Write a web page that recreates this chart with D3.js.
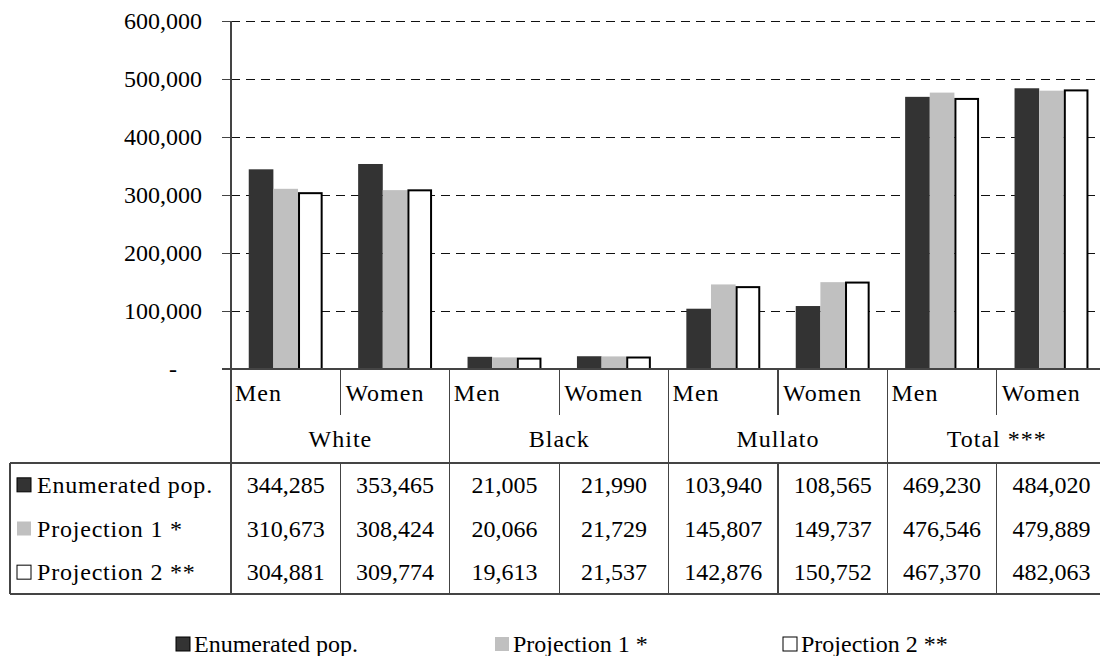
<!DOCTYPE html>
<html>
<head>
<meta charset="utf-8">
<script src="https://cdn.jsdelivr.net/npm/d3@7/dist/d3.min.js"></script>
<style>
  html, body { margin: 0; padding: 0; background: #fff; }
  svg { display: block; }
  svg text { font-family: "Liberation Serif", "Times New Roman", serif !important; fill: #000; }
</style>
</head>
<body>
<svg id="chart" width="1100" height="656"></svg>
<script>
// Population by colour and sex: enumerated census vs. two projections
const groups = ["White", "Black", "Mullato", "Total ***"];
const sexes = ["Men", "Women"];
const seriesNames = ["Enumerated pop.", "Projection 1 *", "Projection 2 **"];
const enumerated  = [344285, 353465, 21005, 21990, 103940, 108565, 469230, 484020];
const projection1 = [310673, 308424, 20066, 21729, 145807, 149737, 476546, 479889];
const projection2 = [304881, 309774, 19613, 21537, 142876, 150752, 467370, 482063];
const yTicks = [0, 100000, 200000, 300000, 400000, 500000, 600000];

const seriesValues = [enumerated, projection1, projection2];
const seriesFill = ["#333333", "#c0c0c0", "#ffffff"];
const seriesStroke = ["none", "none", "#000000"];

const categories = [];
groups.forEach(g => sexes.forEach(s => categories.push({ group: g, sex: s })));

const svg = d3.select("#chart");
const fontSize = 24;
const serif = "'Liberation Serif', 'Times New Roman', serif";

// layout
const plotLeft = 231, catWidth = 109.4;
const plotRight = plotLeft + catWidth * categories.length;
const plotTop = 21, plotBottom = 369;
const rowSexBottom = 415, tableTop = 463, tableBottom = 594, tableLeft = 10;
const rowH = (tableBottom - tableTop) / 3;
const lineColor = "#444";

const x0 = d3.scaleBand().domain(d3.range(categories.length)).range([plotLeft, plotRight]).padding(0);
const x1 = d3.scaleBand().domain(d3.range(seriesNames.length)).range([0, x0.bandwidth()])
  .paddingInner(0).paddingOuter(0.72);
const y = d3.scaleLinear().domain([0, 600000]).range([plotBottom, plotTop]);

// gridlines
svg.append("g").attr("shape-rendering", "crispEdges")
  .selectAll("line").data(yTicks.filter(t => t > 0)).join("line")
  .attr("x1", plotLeft).attr("x2", plotRight)
  .attr("y1", d => y(d)).attr("y2", d => y(d))
  .attr("stroke", "#111").attr("stroke-width", 1).attr("stroke-dasharray", "9,6");

// y axis
const yAxis = d3.axisLeft(y).tickValues(yTicks).tickSize(9).tickPadding(20)
  .tickFormat(d => d === 0 ? "" : d3.format(",")(d));
const gy = svg.append("g").attr("transform", `translate(${plotLeft},0)`).call(yAxis)
  .attr("font-family", serif).attr("font-size", fontSize);
gy.select(".domain").remove();
gy.selectAll(".tick line").attr("stroke", lineColor).attr("shape-rendering", "crispEdges");
gy.selectAll(".tick text").style("font-family", serif).attr("font-size", fontSize).attr("fill", "#000");
svg.append("text").attr("x", 173).attr("y", y(0) + 8).attr("text-anchor", "middle")
  .attr("font-size", fontSize).text("-");

// bars
const barGroups = svg.append("g").selectAll("g").data(seriesNames).join("g");
barGroups.each(function(name, si) {
  const inset = si === 2 ? 1 : 0;
  d3.select(this).selectAll("rect").data(seriesValues[si]).join("rect")
    .attr("x", (d, i) => x0(i) + x1(si) + inset)
    .attr("y", d => y(d) + inset)
    .attr("width", x1.bandwidth() - 2 * inset)
    .attr("height", d => y(0) - y(d) - inset)
    .attr("fill", seriesFill[si])
    .attr("stroke", seriesStroke[si])
    .attr("stroke-width", 2);
});

// axis and table rules
const rules = svg.append("g").attr("stroke", lineColor).attr("stroke-width", 1.2)
  .attr("shape-rendering", "crispEdges");
rules.append("line").attr("x1", plotLeft).attr("x2", plotLeft).attr("y1", plotTop).attr("y2", tableBottom);
rules.append("line").attr("x1", plotLeft - 9).attr("x2", plotRight).attr("y1", plotBottom).attr("y2", plotBottom);
rules.append("line").attr("x1", tableLeft).attr("x2", plotRight).attr("y1", tableTop).attr("y2", tableTop);
rules.append("line").attr("x1", tableLeft).attr("x2", plotRight).attr("y1", tableBottom).attr("y2", tableBottom);
rules.append("line").attr("x1", tableLeft).attr("x2", tableLeft).attr("y1", tableTop).attr("y2", tableBottom);
// category dividers: within a group they stop at the sex row, between groups they run through
categories.forEach((c, i) => {
  if (i === 0) return;
  const xx = x0(i);
  const groupEdge = i % sexes.length === 0;
  rules.append("line").attr("x1", xx).attr("x2", xx)
    .attr("y1", plotBottom).attr("y2", groupEdge ? tableBottom : rowSexBottom);
  if (!groupEdge) {
    rules.append("line").attr("x1", xx).attr("x2", xx).attr("y1", tableTop).attr("y2", tableBottom);
  }
});

// sex labels
svg.append("g").selectAll("text").data(categories).join("text")
  .attr("x", (d, i) => x0(i) + (i % 2 === 0 ? 4 : 5))
  .attr("y", 401).attr("font-size", fontSize).attr("letter-spacing", 1)
  .text(d => d.sex);

// group labels
svg.append("g").selectAll("text").data(groups).join("text")
  .attr("x", (d, gi) => x0(gi * 2) + catWidth)
  .attr("y", 447).attr("text-anchor", "middle").attr("font-size", fontSize).attr("letter-spacing", 1)
  .text(d => d);

// data table rows
const fmt = d3.format(",");
seriesNames.forEach((name, si) => {
  const cy = tableTop + rowH * (si + 0.5);
  const row = svg.append("g");
  row.append("rect").attr("x", 17).attr("y", cy - 7).attr("width", 14).attr("height", 14)
    .attr("fill", seriesFill[si])
    .attr("stroke", si === 1 ? "none" : "#000").attr("stroke-width", 1);
  row.append("text").attr("x", 37).attr("y", cy + 8).attr("font-size", fontSize)
    .attr("letter-spacing", 0.8).text(name);
  row.selectAll("text.val").data(seriesValues[si]).join("text").attr("class", "val")
    .attr("x", (d, i) => x0(i) + catWidth / 2).attr("y", cy + 8)
    .attr("text-anchor", "middle").attr("font-size", fontSize)
    .text(d => fmt(d));
});

// legend
const legendX = [176, 495, 783];
const legendY = 644;
const legend = svg.append("g").selectAll("g").data(seriesNames).join("g")
  .attr("transform", (d, i) => `translate(${legendX[i]},${legendY})`);
legend.append("rect").attr("x", 0).attr("y", -7).attr("width", 14).attr("height", 14)
  .attr("fill", (d, i) => seriesFill[i])
  .attr("stroke", (d, i) => i === 1 ? "none" : "#000").attr("stroke-width", 1);
legend.append("text").attr("x", 18).attr("y", 8).attr("font-size", fontSize).text(d => d);
</script>
</body>
</html>
